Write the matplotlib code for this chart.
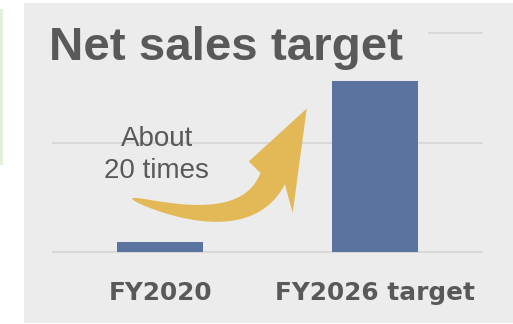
import numpy as np
import matplotlib
matplotlib.use('Agg')
import matplotlib.pyplot as plt
from matplotlib.patches import Rectangle, Polygon
from matplotlib.transforms import IdentityTransform

categories = ['FY2020', 'FY2026 target']
net_sales = [9, 156]
grid_levels = [0, 100, 200]
title = 'Net sales target'
growth_note = 'About\n20 times'

# growth arrow anchors in data units: tail, bend control, neck (head base), tip
arrow_tail = (-0.133, 49)
arrow_ctrl = (0.40, 15)
arrow_neck = (0.524, 67)
arrow_tip = (0.683, 131)

TEXT = '#595959'
PANEL = '#ececec'
BAR = '#5b739f'
GOLD = '#e3b857'
GRID = '#d9d9d9'
W, H = 513, 324


def curved_arrow(ax, tail, ctrl, neck, tip, neck_width, barbs, color):
    """Tapered curved arrow: quadratic bezier body growing from a point, swept head."""
    to_px = ax.transData.transform
    p0, c, p2, pt = (np.asarray(to_px(p)) for p in (tail, ctrl, neck, tip))
    t = np.linspace(0, 1, 80)[:, None]
    centre = (1 - t) ** 2 * p0 + 2 * (1 - t) * t * c + t ** 2 * p2
    deriv = 2 * (1 - t) * (c - p0) + 2 * t * (p2 - c)
    tang = deriv / np.linalg.norm(deriv, axis=1, keepdims=True)
    normal = np.column_stack([-tang[:, 1], tang[:, 0]])
    half = 0.5 * neck_width * t ** 0.5
    left = centre + normal * half
    right = centre - normal * half
    u = (pt - p2) / np.linalg.norm(pt - p2)
    n = np.array([-u[1], u[0]])
    (lu, ln), (ru, rn) = barbs
    left_barb = p2 + u * lu + n * ln
    right_barb = p2 + u * ru + n * rn
    outline = np.vstack([right, right_barb, pt, left_barb, left[::-1]])
    ax.add_artist(Polygon(outline, closed=True, transform=IdentityTransform(),
                          fc=color, ec='none', zorder=4))


fig = plt.figure(figsize=(W / 100, H / 100), dpi=100)
fig.add_artist(Rectangle((24 / W, 1 / H), 1, 320 / H, fc=PANEL, ec='none', zorder=-2))
fig.add_artist(Rectangle((0, 159 / H), 3 / W, 156 / H, fc='#e2efd9', ec='none', zorder=-2))

ax = fig.add_axes([53 / W, 72 / H, 429 / W, 219 / H])
ax.patch.set_visible(False)
ax.bar(range(len(categories)), net_sales, width=0.4, color=BAR, zorder=3)
ax.set_xlim(-0.5, 1.5)
ax.set_ylim(0, 200)
ax.set_yticks(grid_levels)
ax.yaxis.grid(True, color=GRID, lw=1.5)
for gl in ax.get_ygridlines():
    gl.set_clip_on(False)
ax.set_axisbelow(True)
ax.tick_params(axis='y', length=0, labelleft=False)
ax.set_xticks(range(len(categories)), categories)
ax.tick_params(axis='x', length=0, pad=21, labelcolor=TEXT)
for lab in ax.get_xticklabels():
    lab.set_fontfamily('DejaVu Sans')
    lab.set_fontweight('bold')
    lab.set_fontsize(17.8)
for s in ax.spines.values():
    s.set_visible(False)

ax.text(-0.016, 88.5, growth_note, ha='center', va='center', multialignment='center',
        fontsize=20, family='Liberation Sans', color=TEXT, linespacing=1.32, zorder=5)

curved_arrow(ax, arrow_tail, arrow_ctrl, arrow_neck, arrow_tip,
             neck_width=27, barbs=((5, 29), (-22, -33)), color=GOLD)

# panel-coloured band behind the title hides the top gridline
fig.add_artist(Rectangle((40 / W, 1 - 45 / H), 388 / W, 25 / H, fc=PANEL, ec='none', zorder=1))
fig.text(49 / W, 1 - 59.5 / H, title, ha='left', va='baseline', fontsize=34.2,
         fontweight='bold', family='Liberation Sans', color=TEXT, zorder=2)

fig.savefig('out.png', dpi=100, facecolor='white')
